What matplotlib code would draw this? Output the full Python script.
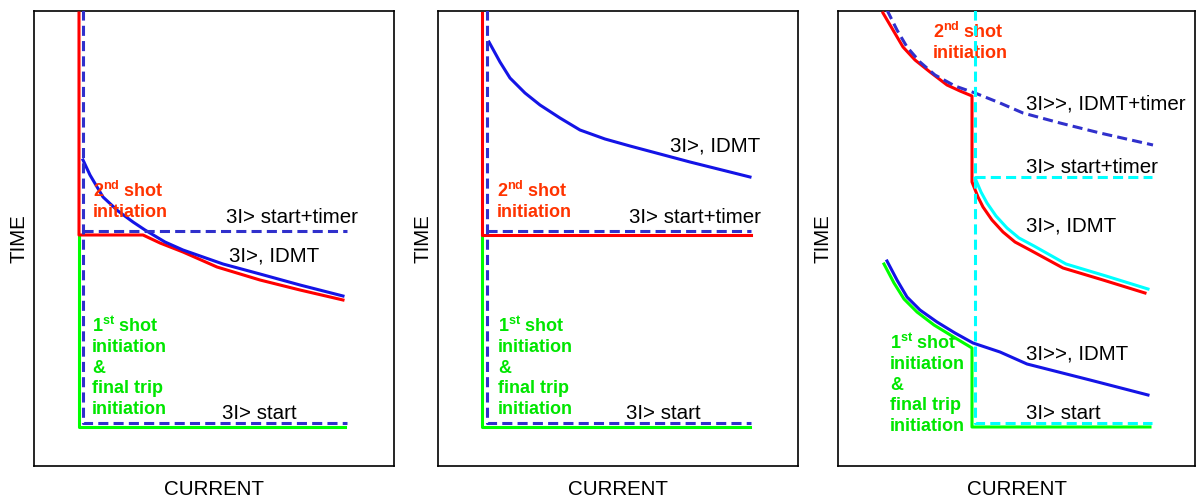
import matplotlib
matplotlib.use('Agg')
import matplotlib.pyplot as plt

plt.rcParams['font.family'] = ['Liberation Sans', 'DejaVu Sans']
plt.rcParams['mathtext.fontset'] = 'custom'
plt.rcParams['mathtext.rm'] = 'Liberation Sans:bold'
plt.rcParams['mathtext.bf'] = 'Liberation Sans:bold'

# ---------------- data (x = current, t = time, arbitrary units) ----------------
# Panel 1
p1_red_x = [45, 45, 109, 126, 149, 183, 226, 266, 309]
p1_red_t = [453, 231, 231, 223, 214, 199, 186, 176, 166]
p1_green_x = [45, 45, 311]
p1_green_t = [231, 39, 39]
p1_start_x = [49, 49, 313]
p1_start_t = [456, 43, 43]
p1_timer_x = [49, 313]
p1_timer_t = [235, 235]
p1_idmt_x = [49, 56, 69, 84, 99, 111, 131, 149, 189, 226, 266, 309]
p1_idmt_t = [306, 291, 269, 255, 244, 236, 224, 216, 202, 192, 181, 170]

# Panel 2
p2_red_x = [44, 44, 313]
p2_red_t = [453, 231, 231]
p2_green_x = [44, 44, 312]
p2_green_t = [231, 39, 39]
p2_start_x = [49, 49, 313]
p2_start_t = [456, 43, 43]
p2_timer_x = [49, 313]
p2_timer_t = [235, 235]
p2_idmt_x = [51, 62, 72, 87, 102, 122, 142, 167, 192, 252, 312]
p2_idmt_t = [424, 404, 388, 373, 361, 348, 336, 327, 320, 304, 289]

# Panel 3
p3_red_x = [45, 55, 65, 77, 92, 109, 122, 134, 134, 140, 145, 154, 165, 177, 192, 225, 265, 307]
p3_red_t = [453, 436, 419, 406, 394, 381, 375, 370, 284, 269, 259, 246, 234, 224, 216, 198, 186, 173]
p3_cyan_idmt_x = [137, 143, 149, 158, 169, 181, 196, 228, 268, 310]
p3_cyan_idmt_t = [288, 274, 263, 250, 238, 228, 220, 202, 190, 177]
p3_start_x = [137, 137, 314]
p3_start_t = [456, 43, 43]
p3_timer_x = [137, 314]
p3_timer_t = [289, 289]
p3_hi_timer_x = [49, 59, 69, 82, 97, 117, 137, 162, 185, 222, 262, 315]
p3_hi_timer_t = [456, 436, 419, 404, 391, 380, 373, 363, 353, 343, 333, 321]
p3_hi_idmt_x = [49, 59, 69, 82, 99, 117, 135, 162, 189, 252, 310]
p3_hi_idmt_t = [205, 186, 169, 156, 144, 133, 123, 114, 102, 86, 71]
p3_green_x = [46, 56, 66, 79, 96, 114, 134, 134, 312]
p3_green_t = [202, 183, 167, 154, 141, 130, 118, 39, 39]

shot2_lines = [r"2$^{\mathbf{nd}}\;$shot", "initiation"]
shot1_lines = [r"1$^{\mathbf{st}}\;$shot", "initiation", "&", "final trip", "initiation"]

# ---------------- styling ----------------
RED = '#ff0000'
GREEN = '#00ff00'
BLUE = '#1414e6'
BLUE_D = '#3030cc'
CYAN = '#00ffff'
RED_TXT = '#ff3300'
GREEN_TXT = '#00e600'
LW = 2.2
DASH = (3.3, 1.7)
FS = 14.8
FS_B = 13.0

W, H = 1196, 498
fig = plt.figure(figsize=(W / 100, H / 100), dpi=100)

boxes = [(34, 360), (438, 360), (838, 357)]
axes = []
for left, width in boxes:
    ax = fig.add_axes([left / W, (H - 466) / H, width / W, 455 / H])
    ax.set_xlim(0, width)
    ax.set_ylim(0, 455)
    ax.set_xticks([])
    ax.set_yticks([])
    for s in ax.spines.values():
        s.set_linewidth(1.2)
    ax.set_xlabel('CURRENT', fontsize=FS, labelpad=10)
    ax.set_ylabel('TIME', fontsize=FS, labelpad=4)
    axes.append(ax)


def solid(ax, x, t, c, z=2):
    ax.plot(x, t, color=c, lw=LW, zorder=z, solid_joinstyle='round')


def dashed(ax, x, t, c, z=4):
    ax.plot(x, t, color=c, lw=LW, dashes=DASH, zorder=z)


def lines(ax, x0, t0, items, color, step=20.4):
    for i, s in enumerate(items):
        ax.text(x0, t0 - i * step, s, color=color, fontsize=FS_B,
                fontweight='bold', ha='left', va='baseline')


def lab(ax, x0, t0, s):
    ax.text(x0, t0, s, fontsize=FS, ha='left', va='baseline', color='black')


# Panel 1
ax = axes[0]
solid(ax, p1_green_x, p1_green_t, GREEN, 2)
solid(ax, p1_red_x, p1_red_t, RED, 3)
solid(ax, p1_idmt_x, p1_idmt_t, BLUE, 3)
dashed(ax, p1_start_x, p1_start_t, BLUE_D)
dashed(ax, p1_timer_x, p1_timer_t, BLUE_D)
lines(ax, 59, 269, shot2_lines, RED_TXT)
lines(ax, 58, 134, shot1_lines, GREEN_TXT)
lab(ax, 192, 243, '3I> start+timer')
lab(ax, 195, 204, '3I>, IDMT')
lab(ax, 188, 47, '3I> start')

# Panel 2
ax = axes[1]
solid(ax, p2_green_x, p2_green_t, GREEN, 2)
solid(ax, p2_red_x, p2_red_t, RED, 3)
solid(ax, p2_idmt_x, p2_idmt_t, BLUE, 3)
dashed(ax, p2_start_x, p2_start_t, BLUE_D)
dashed(ax, p2_timer_x, p2_timer_t, BLUE_D)
lines(ax, 59, 269, shot2_lines, RED_TXT)
lines(ax, 60, 134, shot1_lines, GREEN_TXT)
lab(ax, 191, 243, '3I> start+timer')
lab(ax, 232, 314, '3I>, IDMT')
lab(ax, 188, 47, '3I> start')

# Panel 3
ax = axes[2]
solid(ax, p3_green_x, p3_green_t, GREEN, 2)
solid(ax, p3_red_x, p3_red_t, RED, 3)
solid(ax, p3_cyan_idmt_x, p3_cyan_idmt_t, CYAN, 3)
solid(ax, p3_hi_idmt_x, p3_hi_idmt_t, BLUE, 3)
dashed(ax, p3_hi_timer_x, p3_hi_timer_t, BLUE_D)
dashed(ax, p3_start_x, p3_start_t, CYAN, 5)
dashed(ax, p3_timer_x, p3_timer_t, CYAN, 5)
lines(ax, 95, 428, shot2_lines, RED_TXT)
lines(ax, 52, 117, shot1_lines, GREEN_TXT)
lab(ax, 188, 357, '3I>>, IDMT+timer')
lab(ax, 188, 293, '3I> start+timer')
lab(ax, 188, 235, '3I>, IDMT')
lab(ax, 188, 107, '3I>>, IDMT')
lab(ax, 188, 47, '3I> start')

fig.savefig('out.png', dpi=100)
